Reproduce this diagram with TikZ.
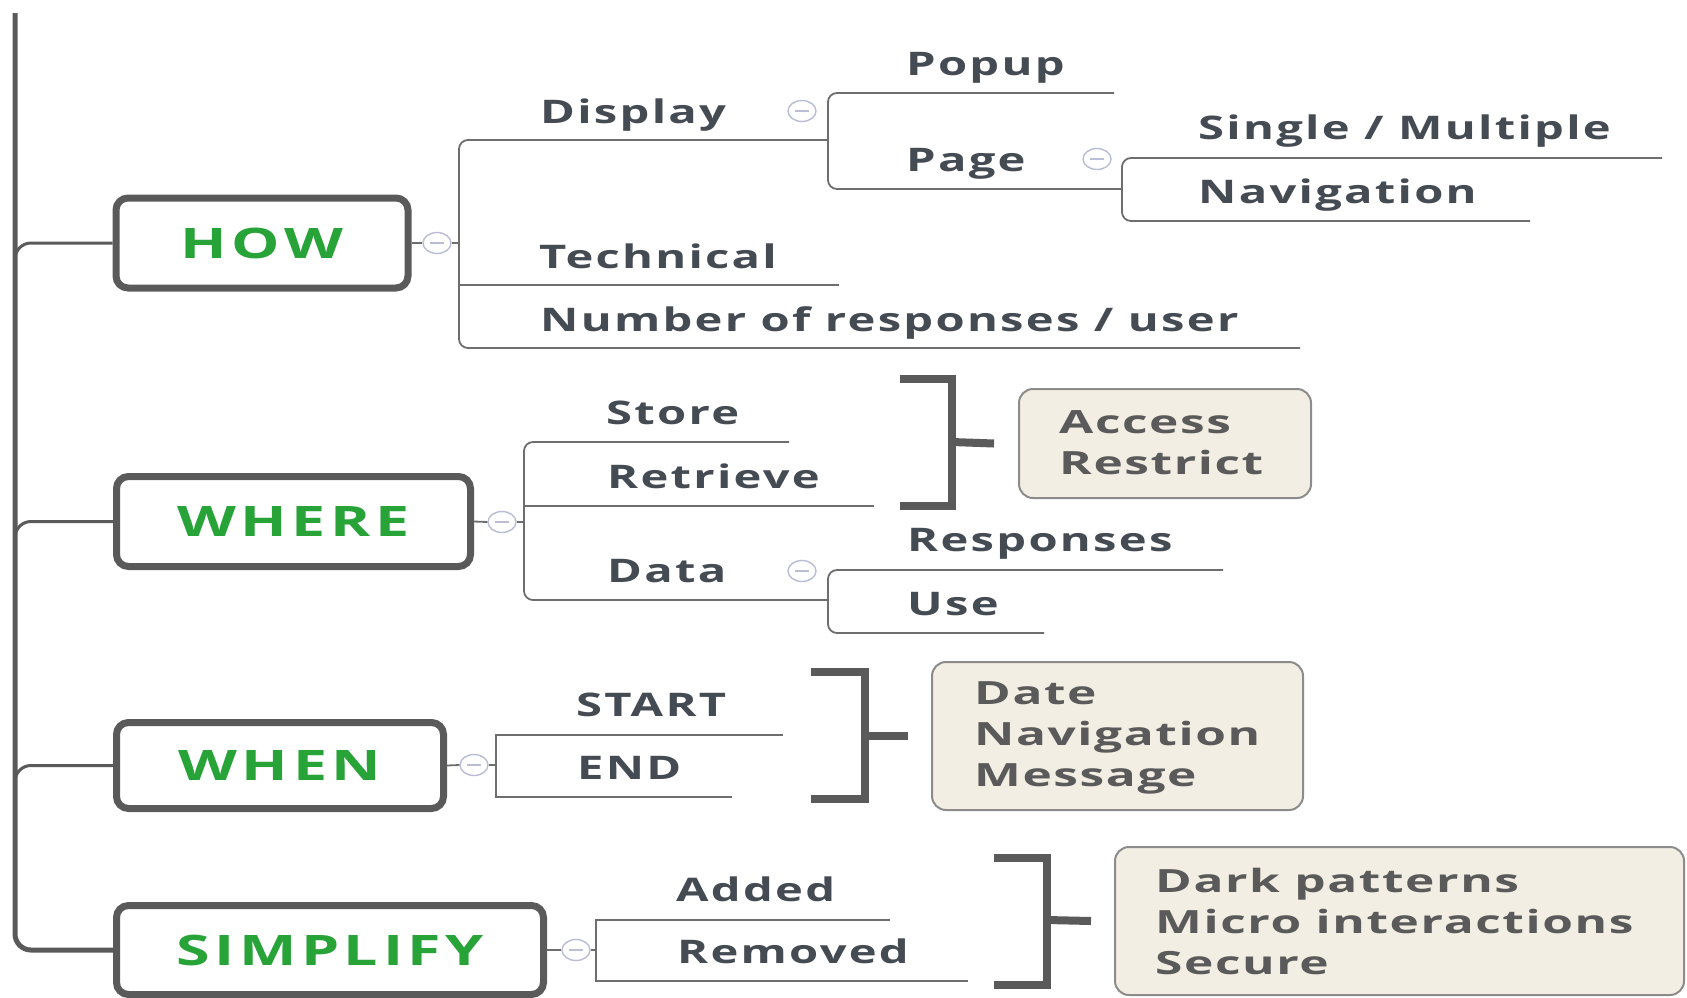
\documentclass[tikz,border=0pt]{standalone}
\usepackage{fontspec}
\setmainfont{Open Sans}
\newfontfamily\labf{Open Sans}[FakeStretch=1.45,LetterSpace=7]
\newfontfamily\boxf{Open Sans}[FakeStretch=1.45,LetterSpace=11]
\newfontfamily\notef{Open Sans}[FakeStretch=1.55,LetterSpace=5]
\usetikzlibrary{shapes.geometric}
\definecolor{labc}{HTML}{454B53}
\definecolor{grn}{HTML}{27A338}
\definecolor{dkg}{HTML}{5A5A5A}
\definecolor{lnc}{HTML}{6E6E6E}
\definecolor{beige}{HTML}{F3EEE3}
\definecolor{bbc}{HTML}{8C8C8C}
\definecolor{circc}{HTML}{B9BDD6}
\definecolor{notec}{HTML}{5A5A5A}
\tikzset{
  lbl/.style={anchor=base west, inner sep=0, text=labc, font=\labf\bfseries\fontsize{32.5}{36}\selectfont},
  ul/.style={draw=lnc, line width=1.8},
  mainln/.style={draw=dkg, line width=5},
  branchln/.style={draw=dkg, line width=3},
  mainbox/.style={draw=dkg, line width=7, rounded corners=12, text=grn, font=\boxf\bfseries\fontsize{42}{46}\selectfont, inner sep=0},
  notebox/.style={draw=bbc, line width=2, rounded corners=14, fill=beige, inner sep=0},
  notetxt/.style={anchor=west, align=left, inner sep=0, text=notec, font=\notef\bfseries\fontsize{32}{41}\selectfont},
  brk/.style={draw=dkg, line width=8},
  clps/.style={ellipse, draw=circc, fill=white, line width=1.4, minimum width=28, minimum height=21, inner sep=0,
    path picture={\draw[circc,line width=1.4] ([xshift=-7pt]path picture bounding box.center) -- ([xshift=7pt]path picture bounding box.center);}}
}
\begin{document}
\begin{tikzpicture}[x=1pt,y=-1pt]
\useasboundingbox[fill=white] (0,0) rectangle (1687,997);

% main boxes
\node[mainbox, minimum width=292, minimum height=90] (how) at (262,243) {HOW};
\node[mainbox, minimum width=354, minimum height=90] (where) at (293.5,521.5) {WHERE};
\node[mainbox, minimum width=327, minimum height=86] (when) at (280,765.5) {WHEN};
\node[mainbox, minimum width=427, minimum height=89] (simp) at (330,950) {SIMPLIFY};

% main trunk
\coordinate (top) at (15,13);
\draw[mainln, rounded corners=16] (top) |- (simp.west);
\draw[branchln, rounded corners=16] ([yshift=-40pt]top |- how.west) |- (how.west);
\draw[branchln, rounded corners=16] ([yshift=-40pt]top |- where.west) |- (where.west);
\draw[branchln, rounded corners=16] ([yshift=-40pt]top |- when.west) |- (when.west);

% ---------- HOW ----------
\node[clps] (howc) at (437,243) {};
\coordinate (howv) at (459,243);
\draw[ul] (how.east) -- (howc.west);
\draw[ul] (howc.east) -- (howv);
\node[lbl] (display) at (540,123) {Display};
\node[lbl] (technical) at (539,268) {Technical};
\node[lbl] (number) at (540,331) {Number of responses / user};
\coordinate (dispE) at (828,140);
\coordinate (techE) at (839,285);
\coordinate (numE) at (1300,348);
\draw[ul, rounded corners=9] (dispE) -- (howv |- dispE) -- (howv |- numE) -- (numE);
\draw[ul] (howv |- techE) -- (techE);
\node[clps] (dispc) at (802,111) {};

% Display subtree
\node[lbl] (popup) at (906,75) {Popup};
\node[lbl] (page) at (906,171) {Page};
\coordinate (popE) at (1114,93);
\coordinate (pageE) at (1121,189);
\draw[ul, rounded corners=9] (popE) -- (dispE |- popE) -- (dispE |- pageE) -- (pageE);
\node[clps] (pagec) at (1097,159) {};

% Page subtree
\node[lbl] (single) at (1198,139) {Single / Multiple};
\node[lbl] (nav) at (1198,203) {Navigation};
\coordinate (pagev) at (1122,189);
\coordinate (singE) at (1662,158);
\coordinate (navE) at (1530,221);
\draw[ul, rounded corners=9] (singE) -- (pagev |- singE) -- (pagev |- navE) -- (navE);

% ---------- WHERE ----------
\node[clps] (wherec) at (502,522) {};
\coordinate (wherev) at (524,522);
\draw[ul] (where.east) -- (wherec.west);
\draw[ul] (wherec.east) -- (wherev);
\node[lbl] (store) at (606,424) {Store};
\node[lbl] (retrieve) at (607,488) {Retrieve};
\node[lbl] (data) at (607,582) {Data};
\coordinate (storeE) at (789,442);
\coordinate (retE) at (874,506);
\coordinate (dataE) at (828,600);
\draw[ul, rounded corners=9] (storeE) -- (wherev |- storeE) -- (wherev |- dataE) -- (dataE);
\draw[ul] (wherev |- retE) -- (retE);
\node[clps] (datac) at (802,571) {};

% Data subtree
\node[lbl] (resp) at (907,551) {Responses};
\node[lbl] (use) at (907,615) {Use};
\coordinate (respE) at (1223,570);
\coordinate (useE) at (1044,633);
\draw[ul, rounded corners=9] (respE) -- (dataE |- respE) -- (dataE |- useE) -- (useE);

% bracket 1
\coordinate (b1t) at (900,379);
\coordinate (b1b) at (900,506);
\coordinate (b1v) at (952,442);
\node[notebox, minimum width=292, minimum height=109] (access) at (1165,443.5) {};
\node[notetxt] (accesst) at (1059,443) {Access\\Restrict};
\draw[brk] (b1t) -- (b1v |- b1t) -- (b1v |- b1b) -- (b1b);
\draw[brk] (b1v) -- ([xshift=-24pt]access.west);

% ---------- WHEN ----------
\node[clps] (whenc) at (474,765) {};
\coordinate (whenv) at (496,765);
\draw[ul] (when.east) -- (whenc.west);
\draw[ul] (whenc.east) -- (whenv);
\node[lbl] (start) at (576,716) {START};
\node[lbl] (end) at (577,779) {END};
\coordinate (startE) at (783,735);
\coordinate (endE) at (732,797);
\draw[ul] (startE) -- (whenv |- startE) -- (whenv |- endE) -- (endE);

\coordinate (b2t) at (811,672);
\coordinate (b2b) at (811,799);
\coordinate (b2v) at (865,736);
\node[notebox, minimum width=371, minimum height=148] (datebox) at (1117.5,736) {};
\node[notetxt] (datet) at (974,738) {Date\\Navigation\\Message};
\draw[brk] (b2t) -- (b2v |- b2t) -- (b2v |- b2b) -- (b2b);
\draw[brk] (b2v) -- ([xshift=-23pt]datebox.west);

% ---------- SIMPLIFY ----------
\node[clps] (simpc) at (576,950) {};
\coordinate (simpv) at (596,950);
\draw[ul] (simp.east) -- (simpc.west);
\draw[ul] (simpc.east) -- (simpv);
\node[lbl] (added) at (676,901) {Added};
\node[lbl] (removed) at (677,963) {Removed};
\coordinate (addE) at (890,920);
\coordinate (remE) at (968,981);
\draw[ul] (addE) -- (simpv |- addE) -- (simpv |- remE) -- (remE);

\coordinate (b3t) at (994,858);
\coordinate (b3b) at (994,985);
\coordinate (b3v) at (1047,920);
\node[notebox, minimum width=569, minimum height=148] (darkbox) at (1399.5,921) {};
\node[notetxt] (darkt) at (1155,921) {Dark patterns\\Micro interactions\\Secure};
\draw[brk] (b3t) -- (b3v |- b3t) -- (b3v |- b3b) -- (b3b);
\draw[brk] (b3v) -- ([xshift=-23pt]darkbox.west);

\end{tikzpicture}
\end{document}
